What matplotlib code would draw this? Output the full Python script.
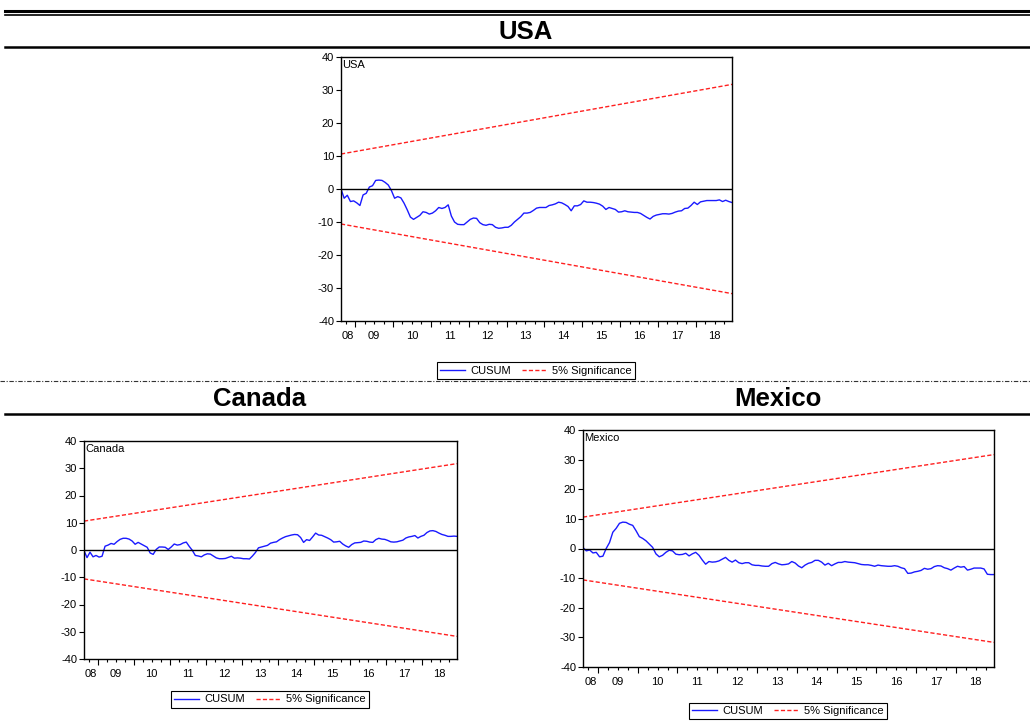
import matplotlib
matplotlib.use("Agg")
import matplotlib.pyplot as plt
from matplotlib.lines import Line2D
import numpy as np
import pandas as pd

plt.rcParams['font.family'] = ['Liberation Sans', 'DejaVu Sans']
plt.rcParams['axes.unicode_minus'] = False

# CUSUM of recursive residuals, monthly 2008M08 - 2018M12
start_month = "2008-08"

usa_cusum = [
    0.0, -2.8, -1.9, -3.8, -3.6, -4.2, -5.0, -1.8, -1.3, 0.6,
    1.0, 2.6, 2.7, 2.6, 2.0, 1.2, -0.5, -2.8, -2.3, -2.7,
    -4.3, -6.3, -8.5, -9.2, -8.6, -8.0, -6.9, -7.1, -7.6, -7.3,
    -6.6, -5.6, -5.9, -5.6, -4.8, -8.2, -10.0, -10.7, -10.8, -10.8,
    -10.0, -9.2, -8.8, -8.9, -10.2, -10.8, -11.0, -10.7, -10.8, -11.6,
    -11.9, -11.8, -11.6, -11.6, -11.0, -10.0, -9.2, -8.4, -7.3, -7.3,
    -7.1, -6.5, -5.8, -5.6, -5.6, -5.6, -5.0, -4.8, -4.5, -4.0,
    -4.2, -4.7, -5.3, -6.6, -5.1, -5.1, -4.7, -3.6, -4.0, -4.0,
    -4.1, -4.3, -4.6, -5.2, -6.2, -5.6, -5.9, -6.2, -7.0, -6.9,
    -6.6, -6.9, -7.0, -7.1, -7.1, -7.4, -8.0, -8.6, -9.1, -8.3,
    -7.9, -7.7, -7.5, -7.5, -7.6, -7.4, -7.0, -6.7, -6.6, -5.9,
    -5.8, -5.0, -4.0, -4.7, -3.9, -3.7, -3.5, -3.5, -3.5, -3.5,
    -3.3, -3.8, -3.4, -3.8, -4.1,
]

canada_cusum = [
    -0.2, -2.8, -0.8, -2.5, -2.0, -2.6, -2.3, 1.4, 1.8, 2.4,
    2.1, 3.1, 3.9, 4.3, 4.3, 4.0, 3.3, 2.1, 2.8, 2.2,
    1.6, 1.0, -1.1, -1.6, 0.2, 1.1, 1.1, 1.0, 0.2, 1.1,
    2.2, 1.8, 2.0, 2.6, 2.9, 1.3, -0.1, -2.0, -2.2, -2.5,
    -1.8, -1.4, -1.5, -2.2, -2.9, -3.2, -3.2, -3.1, -2.7, -2.3,
    -3.0, -2.9, -3.0, -3.2, -3.2, -3.3, -2.2, -0.9, 0.8, 1.1,
    1.4, 1.7, 2.5, 2.8, 3.0, 3.8, 4.4, 4.9, 5.2, 5.5,
    5.7, 5.6, 4.6, 2.8, 3.8, 3.5, 4.8, 6.2, 5.5, 5.4,
    4.9, 4.4, 3.8, 2.9, 3.0, 3.2, 2.2, 1.5, 1.0, 2.0,
    2.6, 2.7, 2.8, 3.3, 3.2, 2.9, 2.8, 3.8, 4.3, 4.0,
    3.9, 3.5, 3.0, 2.9, 3.0, 3.3, 3.6, 4.4, 4.8, 5.0,
    5.3, 4.4, 5.0, 5.4, 6.4, 7.0, 7.1, 6.8, 6.2, 5.7,
    5.4, 5.0, 5.0, 5.1, 5.0,
]

mexico_cusum = [
    0.3, -0.8, -0.5, -1.5, -1.3, -2.8, -2.6, 0.0, 2.0, 5.5,
    6.8, 8.5, 8.9, 8.8, 8.2, 7.8, 6.0, 4.0, 3.4, 2.6,
    1.5, 0.4, -1.8, -2.8, -2.3, -1.3, -0.6, -0.8, -1.9, -2.1,
    -2.0, -1.6, -2.5, -1.8, -1.3, -2.3, -3.9, -5.3, -4.4, -4.6,
    -4.5, -4.2, -3.6, -3.0, -4.0, -4.6, -3.9, -4.8, -5.1, -4.8,
    -4.8, -5.5, -5.7, -5.7, -5.9, -6.0, -6.0, -5.1, -4.7, -5.2,
    -5.5, -5.4, -5.2, -4.4, -4.9, -5.9, -6.5, -5.6, -5.0, -4.7,
    -4.0, -4.0, -4.6, -5.6, -5.0, -5.8, -5.2, -4.7, -4.7, -4.4,
    -4.6, -4.7, -4.8, -5.1, -5.4, -5.5, -5.5, -5.7, -6.0, -5.6,
    -5.8, -5.9, -6.0, -6.0, -5.8, -6.0, -6.5, -6.8, -8.4, -8.3,
    -7.9, -7.7, -7.4, -6.7, -7.0, -6.8, -6.1, -5.8, -5.9, -6.5,
    -6.8, -7.3, -6.6, -6.0, -6.3, -6.1, -7.3, -7.0, -6.6, -6.6,
    -6.6, -6.9, -8.7, -8.8, -8.8,
]

# 5% significance band: value at first and last observation
bound_start = 10.6
bound_end = 31.7

y_ticks = [-40, -30, -20, -10, 0, 10, 20, 30, 40]

BLUE = "#1a1aff"
RED = "#ff2020"
RED_DASH = (0, (3, 1.6))


def draw_cusum(ax, values, name):
    n = len(values)
    dates = pd.date_range(start_month, periods=n, freq="MS")
    x = np.arange(n)

    ax.plot(x, values, color=BLUE, lw=1.0)
    ax.plot([0, n - 1], [bound_start, bound_end], color=RED, lw=1.0, ls=RED_DASH)
    ax.plot([0, n - 1], [-bound_start, -bound_end], color=RED, lw=1.0, ls=RED_DASH)
    ax.axhline(0, color="black", lw=1.0)

    ax.set_xlim(0, n - 1)
    ax.set_ylim(-40, 40)

    # y axis: ticks every 10 on the left only
    ax.set_yticks(y_ticks, [str(v) for v in y_ticks])
    ax.tick_params(axis="y", direction="out", length=3.5, width=0.8,
                   pad=1.5, labelsize=8, right=False)

    # x axis: long ticks at year boundaries, short ticks at quarters
    months = dates.month.values
    year_bounds = x[months == 1] - 0.5
    quarter_bounds = x[np.isin(months, [4, 7, 10])] - 0.5
    ax.set_xticks(year_bounds, [""] * len(year_bounds))
    ax.set_xticks(quarter_bounds, minor=True)
    ax.tick_params(axis="x", which="major", direction="out", length=4.5, width=0.8)
    ax.tick_params(axis="x", which="minor", direction="out", length=2.5, width=0.8)

    # year labels centred on each year's span
    years = dates.year.values
    for yr in np.unique(years):
        idx = x[years == yr]
        lo = max(idx[0] - 0.5, 0)
        hi = min(idx[-1] + 0.5, n - 1)
        ax.annotate(f"{yr % 100:02d}", xy=((lo + hi) / 2, 0),
                    xycoords=("data", "axes fraction"),
                    xytext=(0, -7), textcoords="offset points",
                    ha="center", va="top", fontsize=8)

    for sp in ax.spines.values():
        sp.set_linewidth(1.0)
        sp.set_color("black")

    ax.text(0.003, 0.988, name, transform=ax.transAxes, ha="left", va="top",
            fontsize=8)

    handles = [Line2D([], [], color=BLUE, lw=1.0),
               Line2D([], [], color=RED, lw=1.0, ls=RED_DASH)]
    return handles


W, H = 1030, 722
fig = plt.figure(figsize=(W / 100, H / 100), dpi=100)


def px_axes(left, top, right, bottom):
    return fig.add_axes([left / W, 1 - bottom / H, (right - left) / W, (bottom - top) / H])


def px_legend(handles, cx, cy):
    leg = fig.legend(handles, ["CUSUM", "5% Significance"], loc="center",
                     bbox_to_anchor=(cx / W, 1 - cy / H), ncol=2, fontsize=8,
                     frameon=True, fancybox=False, edgecolor="black", framealpha=1,
                     borderpad=0.3, handlelength=2.2, handletextpad=0.5,
                     columnspacing=1.0, borderaxespad=0)
    leg.get_frame().set_linewidth(0.8)


def px_hline(y, lw, ls="-", x0=5, x1=W, color="black"):
    fig.add_artist(Line2D([x0 / W, x1 / W], [1 - y / H, 1 - y / H], color=color,
                          lw=lw, ls=ls, transform=fig.transFigure))


ax_usa = px_axes(341, 57, 732, 321)
h = draw_cusum(ax_usa, usa_cusum, "USA")
px_legend(h, 536, 370.5)

ax_can = px_axes(84, 441, 457, 659)
h = draw_cusum(ax_can, canada_cusum, "Canada")
px_legend(h, 270, 699.5)

ax_mex = px_axes(583, 430, 994, 667)
h = draw_cusum(ax_mex, mexico_cusum, "Mexico")
px_legend(h, 788, 711)

# panel headers and rules
fig.text(526 / W, 1 - 32 / H, "USA", ha="center", va="center",
         fontsize=18.5, fontweight="bold")
fig.text(259.5 / W, 1 - 399 / H, "Canada", ha="center", va="center",
         fontsize=18.5, fontweight="bold")
fig.text(778 / W, 1 - 399 / H, "Mexico", ha="center", va="center",
         fontsize=18.5, fontweight="bold")

px_hline(10.5, 2.2)
px_hline(14.8, 1.2)
px_hline(47, 1.8)
px_hline(381, 0.8, ls=(0, (4, 1.5, 1, 1.5)), x0=0, color="#333333")
px_hline(414, 1.8)

fig.savefig("out.png", dpi=100)
